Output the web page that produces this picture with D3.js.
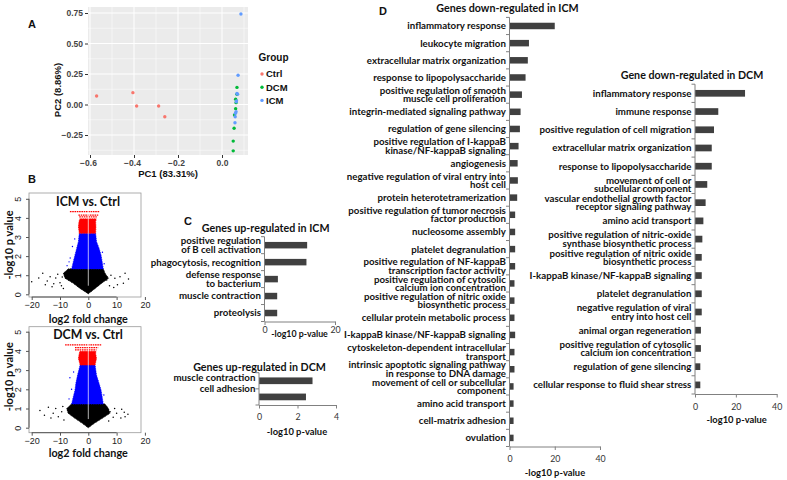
<!DOCTYPE html>
<html>
<head>
<meta charset="utf-8">
<script src="https://cdn.jsdelivr.net/npm/d3@7/dist/d3.min.js"></script>
<style>
html,body{margin:0;padding:0;background:#fff;}
svg{display:block;}
</style>
</head>
<body>
<script>
// ================= DATA =================
// Panel A: PCA scores [PC1, PC2]
const pcaGroups = ["Ctrl", "DCM", "ICM"];
const pcaCtrl = [[-0.57, 0.07], [-0.405, 0.097], [-0.388, -0.012], [-0.288, -0.012], [-0.26, -0.10]];
const pcaDCM = [[0.068, 0.14], [0.068, 0.084], [0.062, 0.043], [0.064, 0.015], [0.062, -0.034], [0.057, -0.086], [0.055, -0.195], [0.051, -0.30], [0.051, -0.38]];
const pcaICM = [[0.086, 0.742], [0.073, 0.24], [0.068, 0.09], [0.071, 0.085], [0.065, 0.023], [0.066, 0.03], [0.064, -0.06], [0.061, -0.072], [0.060, -0.10], [0.059, -0.15]];
const pcaXTicks = [-0.6, -0.4, -0.2, 0.0];
const pcaYTicks = [-0.25, 0.00, 0.25, 0.50, 0.75];

// Panel B: volcano plots, point-cloud envelopes [log2FC, -log10 p]
const volcXTicks = [-20, -10, 0, 10, 20];
const volcYTicks = [0, 1, 2, 3, 4, 5];
const icmBlack = [[0, 0.03], [-2.9, 0.31], [-5.3, 0.58], [-8.2, 0.84], [-8.8, 1.10], [-7.1, 1.33], [5.3, 1.33], [5.9, 1.10], [7.1, 0.84], [4.7, 0.58], [2.4, 0.31]];
const icmBlue = [[-5.9, 1.33], [-5.3, 1.71], [-4.7, 2.06], [-4.1, 2.41], [-3.5, 2.76], [-3.2, 3.19], [2.6, 3.19], [2.9, 2.76], [3.8, 2.41], [4.5, 2.06], [4.9, 1.71], [5.3, 1.33]];
const icmRed = [[-3.2, 3.19], [-3.5, 3.54], [-3.3, 3.8], [-3.0, 3.95], [2.8, 3.95], [2.6, 3.8], [2.7, 3.54], [2.6, 3.19]];
const icmRedRows = [[4.33, -6.5, 4.1], [4.15, -3.5, 3.5], [4.05, -3.2, 3.0]];
const icmOutliers = [[-20, 0.66], [-16.1, 1.1], [-13.5, 0.92], [-14.5, 0.7], [-12.2, 0.55], [-11.5, 0.85], [-10.8, 1.05], [-10, 0.6], [-9.5, 0.45], [-9.2, 0.9], [-12.8, 0.4], [-15.2, 0.5], [-8.8, 0.3], [-17.5, 0.85], [6.5, 0.75], [9.4, 0.84], [11.2, 0.92], [13, 1.1], [12.4, 0.58], [8, 1.0], [7.5, 0.45], [10.3, 0.5], [9, 0.35], [14.2, 0.8]];
const icmBlueStray = [[-7.5, 1.5], [-6.4, 1.9], [-5.6, 2.5], [-4.8, 2.9], [5.6, 1.6], [5.0, 2.2], [-6.8, 1.7]];
const dcmBlack = [[0, 0], [-2.1, 0.23], [-4.7, 0.49], [-7.1, 0.75], [-7.6, 1.0], [-5.9, 1.23], [5.9, 1.23], [7.1, 1.0], [7.6, 0.75], [4.9, 0.49], [2.1, 0.23]];
const dcmBlue = [[-5.9, 1.23], [-5.3, 1.61], [-4.7, 1.96], [-4.4, 2.31], [-3.8, 2.74], [-2.9, 3.26], [2.4, 3.26], [2.9, 2.74], [3.8, 2.31], [4.5, 1.96], [4.9, 1.61], [5.3, 1.23]];
const dcmRed = [[-2.9, 3.26], [-3.5, 3.61], [-3.2, 3.87], [-3.0, 3.98], [2.7, 3.98], [2.6, 3.87], [2.9, 3.61], [2.4, 3.26]];
const dcmRedRows = [[4.31, -8.2, 4.7], [4.17, -4.7, 3.5], [4.05, -4.7, 2.9]];
const dcmOutliers = [[-17.1, 0.89], [-14.1, 1.06], [-12.4, 0.75], [-10.6, 0.57], [-9.4, 0.83], [-11.5, 1.0], [-13.2, 0.5], [-8.6, 0.4], [-15.5, 0.65], [-9, 1.1], [7.7, 0.83], [10, 0.75], [11.8, 0.96], [13, 0.57], [8.8, 0.54], [11.5, 0.5], [12.7, 0.8], [9.3, 1.0], [14, 0.7], [7.2, 0.35]];
const dcmBlueStray = [[-6.5, 2.6], [-6.8, 1.5], [-5.9, 2.0], [5.5, 1.7], [-5.2, 2.9]];

// Panel C: GO terms up-regulated
const cICMTerms = ["positive regulation\nof B cell activation", "phagocytosis, recognition", "defense response\nto bacterium", "muscle contraction", "proteolysis"];
const cICMValues = [12.1, 11.9, 3.8, 3.6, 3.6];
const cICMTicks = [0, 20];
const cDCMTerms = ["muscle contraction", "cell adhesion"];
const cDCMValues = [2.78, 2.44];
const cDCMTicks = [0, 2, 4];

// Panel D: GO terms down-regulated
const dICMTerms = ["inflammatory response", "leukocyte migration", "extracellular matrix organization", "response to lipopolysaccharide", "positive regulation of smooth\nmuscle cell proliferation", "integrin-mediated signaling pathway", "regulation of gene silencing", "positive regulation of I-kappaB\nkinase/NF-kappaB signaling", "angiogenesis", "negative regulation of viral entry into\nhost cell", "protein heterotetramerization", "positive regulation of tumor necrosis\nfactor production", "nucleosome assembly", "platelet degranulation", "positive regulation of NF-kappaB\ntranscription factor activity", "positive regulation of cytosolic\ncalcium ion concentration", "positive regulation of nitric oxide\nbiosynthetic process", "cellular protein metabolic process", "I-kappaB kinase/NF-kappaB signaling", "cytoskeleton-dependent intracellular\ntransport", "intrinsic apoptotic signaling pathway\nin response to DNA damage", "movement of cell or subcellular\ncomponent", "amino acid transport", "cell-matrix adhesion", "ovulation"];
const dICMValues = [20, 8.6, 8.1, 7.1, 5.5, 4.9, 4.6, 4.0, 3.6, 3.7, 3.4, 2.5, 2.5, 2.5, 2.5, 2.2, 2.2, 2.2, 2.5, 2.2, 2.2, 1.8, 1.8, 1.8, 1.8];
const dDCMTerms = ["inflammatory response", "immune response", "positive regulation of cell migration", "extracellular matrix organization", "response to lipopolysaccharide", "movement of cell or\nsubcellular component", "vascular endothelial growth factor\nreceptor signaling pathway", "amino acid transport", "positive regulation of nitric-oxide\nsynthase biosynthetic process", "positive regulation of nitric oxide\nbiosynthetic process", "I-kappaB kinase/NF-kappaB signaling", "platelet degranulation", "negative regulation of viral\nentry into host cell", "animal organ regeneration", "positive regulation of cytosolic\ncalcium ion concentration", "regulation of gene silencing", "cellular response to fluid shear stress"];
const dDCMValues = [24.5, 11.4, 9.3, 8.2, 8.2, 6.0, 5.2, 4.1, 3.6, 3.3, 3.3, 3.3, 3.3, 2.9, 2.9, 2.6, 2.6];
const dTicks = [0, 20, 40];

// ================= DRAW =================
const FONT = "Lato, 'Open Sans', sans-serif";
const ARIAL = "'Liberation Sans', Arial, sans-serif";
const svg = d3.select("body").append("svg").attr("width", 787).attr("height", 480);

function panelLetter(t, x, y) {
  svg.append("text").attr("x", x).attr("y", y).text(t)
    .attr("font-family", ARIAL).attr("font-weight", "bold").attr("font-size", 11).attr("fill", "#111");
}
panelLetter("A", 28, 27.5);
panelLetter("B", 28, 182.5);
panelLetter("C", 184, 225);
panelLetter("D", 379, 15);

// ---------- Panel A ----------
(function () {
  const P = { l: 88, r: 248, t: 7, b: 155 };
  const x = d3.scaleLinear().domain([-0.6, 0]).range([90, 222]);
  const y = d3.scaleLinear().domain([-0.25, 0.75]).range([135, 13]);
  const g = svg.append("g");
  g.append("rect").attr("x", P.l).attr("y", P.t).attr("width", P.r - P.l).attr("height", P.b - P.t).attr("fill", "#EBEBEB");
  const xMinor = [-0.5, -0.3, -0.1, 0.1], yMinor = [-0.375, -0.125, 0.125, 0.375, 0.625];
  const inX = v => x(v) >= P.l && x(v) <= P.r, inY = v => y(v) >= P.t && y(v) <= P.b;
  g.selectAll(".gxm").data(xMinor.filter(inX)).join("line").attr("x1", d => x(d)).attr("x2", d => x(d)).attr("y1", P.t).attr("y2", P.b).attr("stroke", "#fff").attr("stroke-width", 0.5);
  g.selectAll(".gym").data(yMinor.filter(inY)).join("line").attr("y1", d => y(d)).attr("y2", d => y(d)).attr("x1", P.l).attr("x2", P.r).attr("stroke", "#fff").attr("stroke-width", 0.5);
  g.selectAll(".gx").data(pcaXTicks).join("line").attr("x1", d => x(d)).attr("x2", d => x(d)).attr("y1", P.t).attr("y2", P.b).attr("stroke", "#fff").attr("stroke-width", 1);
  g.selectAll(".gy").data(pcaYTicks).join("line").attr("y1", d => y(d)).attr("y2", d => y(d)).attr("x1", P.l).attr("x2", P.r).attr("stroke", "#fff").attr("stroke-width", 1);
  const ax = g.append("g").attr("transform", `translate(0,${P.b})`).call(d3.axisBottom(x).tickValues(pcaXTicks).tickSize(3).tickPadding(2).tickFormat(d3.format(".1f")));
  const ay = g.append("g").attr("transform", `translate(${P.l},0)`).call(d3.axisLeft(y).tickValues(pcaYTicks).tickSize(3).tickPadding(2).tickFormat(d3.format(".2f")));
  [ax, ay].forEach(a => {
    a.select(".domain").remove();
    a.selectAll(".tick line").attr("stroke", "#333");
    a.selectAll("text").attr("font-family", ARIAL).attr("font-size", 8.5).attr("font-weight", "bold").attr("fill", "#444");
  });
  ax.selectAll(".tick text").attr("x", d => d === 0 ? 0 : -2);
  const cols = { Ctrl: "#F8766D", DCM: "#00BA38", ICM: "#619CFF" };
  const sets = { Ctrl: pcaCtrl, DCM: pcaDCM, ICM: pcaICM };
  pcaGroups.forEach(gr => {
    g.selectAll(".p" + gr).data(sets[gr]).join("circle").attr("cx", d => x(d[0])).attr("cy", d => y(d[1])).attr("r", 1.7).attr("fill", cols[gr]);
  });
  g.append("text").attr("x", 168).attr("y", 177).attr("text-anchor", "middle").text("PC1 (83.31%)")
    .attr("font-family", ARIAL).attr("font-weight", "bold").attr("font-size", 9.5).attr("fill", "#111");
  g.append("text").attr("transform", "translate(61,90) rotate(-90)").attr("text-anchor", "middle").text("PC2 (8.86%)")
    .attr("font-family", ARIAL).attr("font-weight", "bold").attr("font-size", 9.5).attr("fill", "#111");
  g.append("text").attr("x", 258.5).attr("y", 61).text("Group").attr("font-family", ARIAL).attr("font-weight", "bold").attr("font-size", 10).attr("fill", "#111");
  pcaGroups.forEach((gr, i) => {
    const yy = 74 + i * 13.2;
    g.append("circle").attr("cx", 262).attr("cy", yy).attr("r", 1.7).attr("fill", cols[gr]);
    g.append("text").attr("x", 266).attr("y", yy + 3.4).text(gr).attr("font-family", ARIAL).attr("font-weight", "bold").attr("font-size", 9.5).attr("fill", "#111");
  });
})();

// ---------- Panel B ----------
function drawVolcano(o) {
  const box = { l: 29, r: 141, t: o.boxT, b: o.boxB };
  const x = d3.scaleLinear().domain([-20, 20]).range([31.7, 144.9]);
  const y = d3.scaleLinear().domain([0, 5]).range(o.yRange);
  const g = svg.append("g");
  g.append("clipPath").attr("id", o.id).append("rect").attr("x", box.l).attr("y", box.t).attr("width", box.r - box.l).attr("height", box.b - box.t);
  const pg = g.append("g").attr("clip-path", `url(#${o.id})`);
  const poly = d3.line().x(d => x(d[0])).y(d => y(d[1])).curve(d3.curveLinearClosed);
  pg.append("path").attr("d", poly(o.black)).attr("fill", "#000").attr("stroke", "#000").attr("stroke-width", 1).attr("stroke-dasharray", "1.2,0.6");
  pg.selectAll(".out").data(o.outliers).join("circle").attr("cx", d => x(d[0])).attr("cy", d => y(d[1])).attr("r", 0.75).attr("fill", "#000");
  pg.append("path").attr("d", poly(o.blue)).attr("fill", "#0000FF").attr("stroke", "#0000FF").attr("stroke-width", 0.8).attr("stroke-dasharray", "1,0.8");
  pg.selectAll(".bs").data(o.blueStray).join("circle").attr("cx", d => x(d[0])).attr("cy", d => y(d[1])).attr("r", 0.7).attr("fill", "#0000FF");
  pg.append("path").attr("d", poly(o.red)).attr("fill", "#FF0000").attr("stroke", "#FF0000").attr("stroke-width", 0.8).attr("stroke-dasharray", "1,0.8");
  pg.selectAll(".rr").data(o.redRows).join("line").attr("x1", d => x(d[1])).attr("x2", d => x(d[2])).attr("y1", d => y(d[0])).attr("y2", d => y(d[0]))
    .attr("stroke", "#FF0000").attr("stroke-width", 1.3).attr("stroke-dasharray", "1.6,0.7");
  pg.append("line").attr("x1", x(0)).attr("x2", x(0)).attr("y1", y(0.45)).attr("y2", y(4.45)).attr("stroke", "#fff").attr("stroke-width", 0.7);
  g.append("rect").attr("x", box.l).attr("y", box.t).attr("width", box.r - box.l).attr("height", box.b - box.t).attr("fill", "none").attr("stroke", "#9a9a9a").attr("stroke-width", 0.8);
  const ax = g.append("g").attr("transform", `translate(0,${box.b})`).call(d3.axisBottom(x).tickValues(o.xTicks).tickSize(3).tickPadding(2).tickFormat(d3.format("d")));
  ax.select(".domain").attr("stroke", "#555").attr("d", `M${x(-20)},0H${x(10)}`);
  ax.selectAll(".tick line").attr("stroke", "#555");
  ax.selectAll("text").attr("font-family", ARIAL).attr("font-size", 9).attr("fill", "#222");
  const ay = g.append("g").attr("transform", `translate(${box.l},0)`).call(d3.axisLeft(y).tickValues(volcYTicks).tickSize(3).tickFormat(""));
  ay.select(".domain").attr("stroke", "#555").attr("d", `M0,${y(0)}V${y(5)}`);
  ay.selectAll(".tick line").attr("stroke", "#555");
  ay.selectAll(".tick").append("text").attr("transform", "translate(-8,0) rotate(-90)").attr("text-anchor", "middle").text(d => d)
    .attr("font-family", ARIAL).attr("font-size", 9).attr("fill", "#222");
  g.append("text").attr("x", 88).attr("y", o.titleY).attr("text-anchor", "middle").text(o.title)
    .attr("font-family", FONT).attr("font-weight", "bold").attr("font-size", 12.3).attr("fill", "#111");
  g.append("text").attr("x", 88.3).attr("y", o.xlabY).attr("text-anchor", "middle").text("log2 fold change")
    .attr("font-family", FONT).attr("font-weight", "bold").attr("font-size", 10.8).attr("fill", "#111");
  g.append("text").attr("transform", `translate(13,${o.ylabC}) rotate(-90)`).attr("text-anchor", "middle").text("-log10 p value")
    .attr("font-family", FONT).attr("font-weight", "bold").attr("font-size", 11).attr("fill", "#111");
}
drawVolcano({ id: "vc1", boxT: 193, boxB: 297, yRange: [294.3, 198.8], title: "ICM vs. Ctrl", titleY: 206, xlabY: 323, ylabC: 245,
  black: icmBlack, blue: icmBlue, red: icmRed, redRows: icmRedRows, outliers: icmOutliers, blueStray: icmBlueStray, xTicks: volcXTicks });
drawVolcano({ id: "vc2", boxT: 326.7, boxB: 432.7, yRange: [427.7, 331.7], title: "DCM vs. Ctrl", titleY: 339, xlabY: 457, ylabC: 376.7,
  black: dcmBlack, blue: dcmBlue, red: dcmRed, redRows: dcmRedRows, outliers: dcmOutliers, blueStray: dcmBlueStray, xTicks: volcXTicks });

// ---------- Panels C & D : bar charts ----------
function drawBars(o) {
  const n = o.terms.length;
  const x = d3.scaleLinear().domain(o.domain).range([o.x0, o.x1]);
  const y = d3.scaleBand().domain(d3.range(n)).range([o.y0, o.y1]);
  const g = svg.append("g");
  const bh = o.barH;
  g.selectAll(".bar").data(o.values).join("rect")
    .attr("x", x(0)).attr("y", (d, i) => y(i) + y.bandwidth() / 2 - bh / 2)
    .attr("width", d => x(d) - x(0)).attr("height", bh).attr("fill", "#404040");
  g.append("line").attr("x1", x(0)).attr("x2", x(0)).attr("y1", o.y0).attr("y2", o.y1).attr("stroke", "#808080").attr("stroke-width", 1);
  g.selectAll(".ct").data(d3.range(n + 1)).join("line")
    .attr("x1", x(0) - 3.5).attr("x2", x(0)).attr("y1", i => o.y0 + i * y.step()).attr("y2", i => o.y0 + i * y.step())
    .attr("stroke", "#808080").attr("stroke-width", 1);
  const ax = g.append("g").attr("transform", `translate(0,${o.y1})`)
    .call(d3.axisBottom(x).tickValues(o.ticks).tickSize(3.5).tickSizeOuter(0).tickFormat(d3.format("d")));
  ax.select(".domain").attr("stroke", "#808080");
  ax.selectAll(".tick line").attr("stroke", "#808080");
  ax.selectAll(".tick text").attr("y", o.tickLabY - o.y1).attr("dy", "0.35em")
    .attr("font-family", FONT).attr("font-size", 8.8).attr("fill", "#333");
  const ls = 8.4;
  o.terms.forEach((t, i) => {
    const lines = t.split("\n");
    const cy = y(i) + y.bandwidth() / 2 + (o.labelShift ? o.labelShift[i] : 0);
    const tx = g.append("text").attr("text-anchor", "end")
      .attr("font-family", FONT).attr("font-weight", "bold").attr("font-size", 9.7).attr("fill", "#111");
    lines.forEach((ln, k) => {
      tx.append("tspan").attr("x", x(0) - 3.6).attr("y", cy - (lines.length - 1) * ls / 2 + k * ls).attr("dy", "0.35em").text(ln);
    });
  });
  g.append("text").attr("x", o.titleX).attr("y", o.titleY).attr("dy", "0.35em").attr("text-anchor", "middle").text(o.title)
    .attr("font-family", FONT).attr("font-weight", "bold").attr("font-size", 10.7).attr("fill", "#111");
  g.append("text").attr("x", o.axTitleX).attr("y", o.axTitleY).attr("dy", "0.35em").attr("text-anchor", "middle").text("-log10 p-value")
    .attr("font-family", FONT).attr("font-weight", "bold").attr("font-size", o.axTitleSize || 9.4).attr("fill", "#111");
}

drawBars({ terms: cICMTerms, values: cICMValues, ticks: cICMTicks, domain: [0, 20], x0: 264.5, x1: 335, y0: 236.7, y1: 321.5, barH: 6.5,
  tickLabY: 330, title: "Genes up-regulated in ICM", titleX: 265.7, titleY: 228, axTitleX: 299.5, axTitleY: 334, axTitleSize: 8.8 });
drawBars({ terms: cDCMTerms, values: cDCMValues, ticks: cDCMTicks, domain: [0, 4], x0: 259, x1: 336, y0: 372.7, y1: 405, barH: 6.7,
  labelShift: [-3, -8.7], tickLabY: 417.3, title: "Genes up-regulated in DCM", titleX: 259.5, titleY: 367.5, axTitleX: 297, axTitleY: 432 });
drawBars({ terms: dICMTerms, values: dICMValues, ticks: dTicks, domain: [0, 40], x0: 509.5, x1: 600, y0: 17.4, y1: 446.5, barH: 6.5,
  tickLabY: 459.3, title: "Genes down-regulated in ICM", titleX: 507.5, titleY: 8.5, axTitleX: 555, axTitleY: 473 });
drawBars({ terms: dDCMTerms, values: dDCMValues, ticks: dTicks, domain: [0, 40], x0: 695, x1: 776.7, y0: 84.2, y1: 394, barH: 6.7,
  tickLabY: 406.7, title: "Gene down-regulated in DCM", titleX: 692, titleY: 75.7, axTitleX: 736.7, axTitleY: 419.3 });
</script>
</body>
</html>
